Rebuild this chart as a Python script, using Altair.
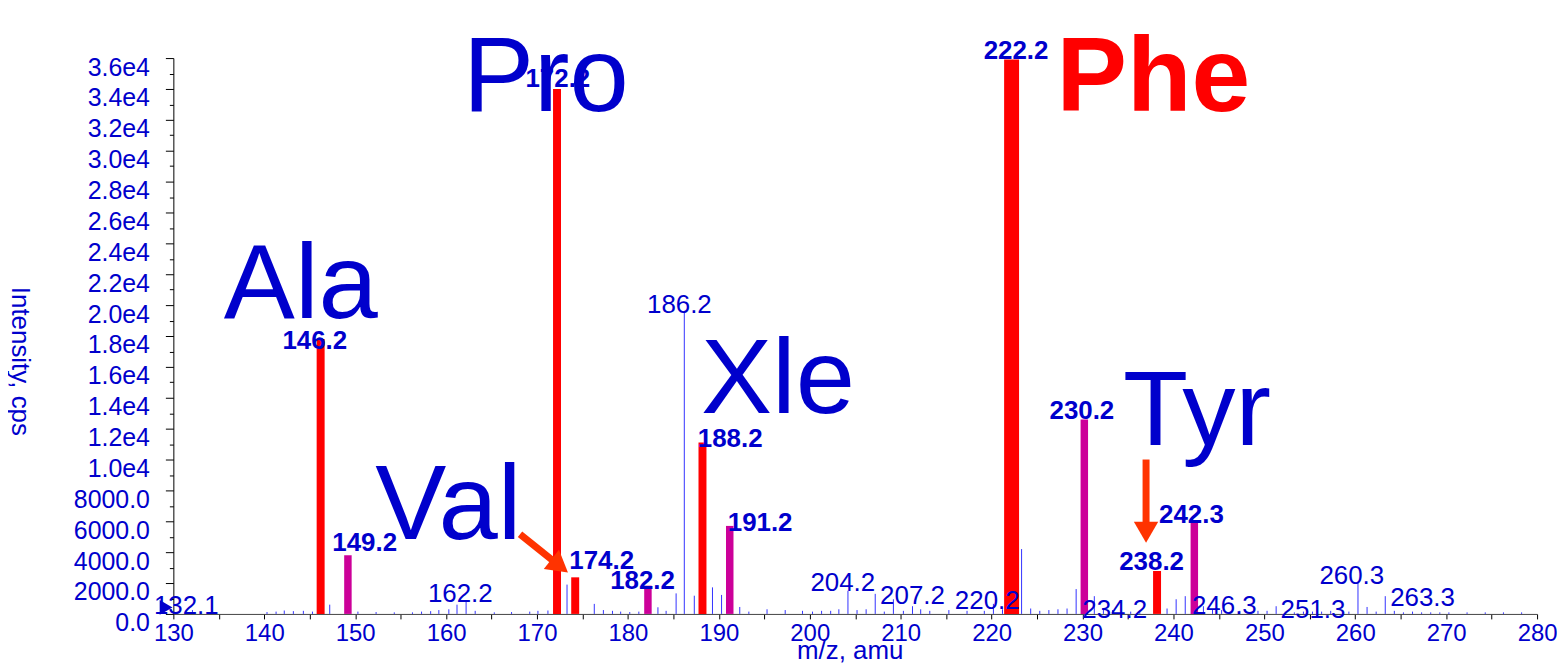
import altair as alt
import pandas as pd

# ---------------- annotated (thick) peaks ----------------
peak_mz = [146.2, 149.2, 172.2, 174.2, 182.2, 188.2, 191.2, 222.2, 230.2, 238.2, 242.3]
peak_int = [17800, 3800, 34000, 2370, 1830, 11100, 5700, 35900, 12600, 2780, 6000]
peak_kind = ["immonium", "related", "immonium", "immonium", "related", "immonium",
             "related", "base", "related", "immonium", "related"]

# ---------------- other (thin) peaks ----------------
minor_mz = [132.1, 140.3, 141.3, 142.2, 143.2, 144.3, 145.3, 147.2, 150.3, 152.3, 154.3,
            156.3, 157.3, 158.3, 159.2, 160.3, 161.2, 162.2, 163.2, 165.3, 167.2, 169.2,
            170.1, 171.2, 173.3, 176.3, 177.3, 178.3, 179.2, 180.2, 181.2, 183.3, 184.2,
            185.3, 186.2, 187.3, 189.3, 190.3, 192.3, 193.3, 195.3, 197.3, 199.2, 200.3,
            201.3, 202.3, 203.2, 204.2, 205.2, 206.2, 207.2, 208.2, 209.2, 210.3, 211.3,
            212.2, 213.2, 215.3, 217.3, 219.2, 220.2, 221.2, 223.3, 224.3, 225.3, 226.3,
            227.3, 228.3, 229.3, 231.3, 232.3, 233.3, 235.3, 236.3, 239.3, 240.3, 241.3,
            243.3, 244.3, 245.3, 247.3, 249.3, 250.3, 251.3, 252.3, 253.3, 254.3, 255.3,
            256.3, 257.3, 259.3, 260.3, 261.3, 262.3, 263.3, 264.3, 265.3, 266.3, 267.3,
            268.3, 269.3, 270.3, 272.3, 274.3, 276.3, 278.3]
minor_int = [250, 120, 150, 220, 180, 200, 150, 600, 150, 120, 100,
             100, 150, 180, 250, 300, 600, 900, 200, 100, 120, 150,
             200, 220, 1900, 650, 250, 200, 150, 120, 150, 430, 200,
             1330, 19500, 1180, 1720, 1230, 450, 150, 300, 250, 200, 150,
             200, 200, 300, 1500, 250, 300, 1300, 150, 950, 200, 500,
             300, 200, 250, 200, 200, 650, 300, 4200, 350, 200, 250,
             300, 350, 1610, 1150, 300, 250, 150, 200, 350, 950, 1150,
             500, 300, 250, 200, 200, 200, 500, 150, 100, 150, 150,
             150, 200, 150, 2050, 450, 150, 1150, 200, 100, 150, 100,
             100, 100, 100, 100, 100, 100, 100]

# ---------------- labels ----------------
bold_label = ["146.2", "149.2", "172.2", "174.2", "182.2", "188.2", "191.2", "222.2",
              "230.2", "238.2", "242.3"]
bold_x = [145.56, 151.04, 172.29, 177.11, 181.61, 191.25, 194.54, 222.69, 229.93, 237.6, 241.98]
bold_y = [17700, 4580, 34650, 3420, 2130, 11350, 5870, 36450, 13160, 3360, 6390]

thin_label = ["132.1", "162.2", "186.2", "204.2", "207.2", "220.2", "234.2", "246.3",
              "251.3", "260.3", "263.3"]
thin_x = [131.42, 161.56, 185.66, 203.63, 211.3, 219.52, 233.54, 245.6, 255.35, 259.62, 267.4]
thin_y = [520, 1290, 20000, 2000, 1160, 840, 260, 520, 260, 2450, 1030]

aa_label = ["Ala", "Pro", "Val", "Xle", "Tyr"]
aa_x = [144.02, 170.98, 160.24, 196.51, 242.6]
aa_y = [19160, 32580, 4840, 13030, 10970]

phe_label = ["Phe"]
phe_x = [237.8]
phe_y = [32580]

# ---------------- arrows ----------------
arrow_x = [168.13, 236.99]
arrow_y = [5160, 10000]
arrow_x2 = [172.49, 236.99]
arrow_y2 = [3110, 5290]
arrow_angle = [128.4, 180]

marker_x = [129.2]
marker_y = [420]

BLUE = "#0000CC"
FONT = "Liberation Sans"

peaks = pd.DataFrame({"mz": peak_mz, "intensity": peak_int, "kind": peak_kind})
minor = pd.DataFrame({"mz": minor_mz, "intensity": minor_int})
bold_df = pd.DataFrame({"mz": bold_x, "intensity": bold_y, "label": bold_label})
thin_df = pd.DataFrame({"mz": thin_x, "intensity": thin_y, "label": thin_label})
aa_df = pd.DataFrame({"mz": aa_x, "intensity": aa_y, "label": aa_label})
phe_df = pd.DataFrame({"mz": phe_x, "intensity": phe_y, "label": phe_label})
arrows = pd.DataFrame({"mz": arrow_x, "intensity": arrow_y, "mz2": arrow_x2,
                       "intensity2": arrow_y2, "angle": arrow_angle})
marker = pd.DataFrame({"mz": marker_x, "intensity": marker_y})

xscale = alt.Scale(domain=[130, 280], nice=False, zero=False)
yscale = alt.Scale(domain=[0, 36000], nice=False, zero=True)

xaxis = alt.Axis(
    title="m/z, amu", values=list(range(130, 281, 5)), format="d",
    labelExpr="datum.value % 10 == 0 ? datum.label : ''",
    tickSize=5, tickColor="#000000", domainColor="#444444", grid=False,
    labelFont=FONT, labelFontSize=24, labelColor=BLUE, labelPadding=3,
    labelFlush=False, labelOverlap=False,
    titleFont=FONT, titleFontSize=26, titleColor=BLUE, titleFontWeight="normal",
    titleX=679, titleY=37, titleBaseline="middle", titleAlign="center",
)
yaxis = alt.Axis(
    title="Intensity, cps", values=list(range(0, 36001, 1000)),
    labelExpr="datum.value % 2000 != 0 ? '' : (datum.value >= 10000 ? format(datum.value / 10000, '.1f') + 'e4' : format(datum.value, '.1f'))",
    tickSize={"condition": {"test": "datum.value % 2000 == 0", "value": 8}, "value": 4},
    tickColor="#000000", domainColor="#000000", grid=False,
    labelFont=FONT, labelFontSize=25, labelColor=BLUE, labelPadding=16,
    labelBaseline="middle", labelOffset=9, labelOverlap=False, labelFlush=False,
    titleFont=FONT, titleFontSize=26, titleColor=BLUE, titleFontWeight="normal",
    titleAngle=90, titleX=-154, titleY=304, titleAlign="center", titleBaseline="middle",
)


def X(field):
    return alt.X(field, type="quantitative", scale=xscale, axis=xaxis)


def Y(field):
    return alt.Y(field, type="quantitative", scale=yscale, axis=yaxis)


thin_lines = alt.Chart(minor).mark_rule(color="#3333FF", strokeWidth=1).encode(
    x=X("mz"), y=Y("intensity"), y2=alt.datum(0)
)

kinds = ["immonium", "related", "base"]
thick = alt.Chart(peaks).mark_rule().encode(
    x=X("mz"), y=Y("intensity"), y2=alt.datum(0),
    color=alt.Color("kind:N", scale=alt.Scale(domain=kinds,
                                               range=["#FF0000", "#CC0099", "#FF0000"]),
                    legend=None),
    strokeWidth=alt.StrokeWidth("kind:N", scale=alt.Scale(type="ordinal", domain=kinds,
                                                          range=[8, 7.5, 15]),
                                legend=None),
)

shafts = alt.Chart(arrows).mark_rule(color="#FF3300", strokeWidth=7).encode(
    x=X("mz"), y=Y("intensity"), x2="mz2", y2="intensity2"
)
heads = alt.Chart(arrows).mark_point(shape="triangle-up", filled=True, color="#FF3300",
                                     size=600, opacity=1).encode(
    x=X("mz2"), y=Y("intensity2"), angle=alt.Angle("angle:Q", scale=None)
)

mark132 = alt.Chart(marker).mark_point(shape="triangle-right", filled=True, color=BLUE,
                                       size=220, opacity=1).encode(
    x=X("mz"), y=Y("intensity")
)

thin_text = alt.Chart(thin_df).mark_text(font=FONT, fontSize=26, color=BLUE,
                                         align="center", baseline="middle").encode(
    x=X("mz"), y=Y("intensity"), text="label:N"
)
bold_text = alt.Chart(bold_df).mark_text(font=FONT, fontSize=26, fontWeight="bold", color=BLUE,
                                         align="center", baseline="middle").encode(
    x=X("mz"), y=Y("intensity"), text="label:N"
)
aa_text = alt.Chart(aa_df).mark_text(font=FONT, fontSize=107, color=BLUE,
                                     align="center", baseline="alphabetic").encode(
    x=X("mz"), y=Y("intensity"), text="label:N"
)
phe_text = alt.Chart(phe_df).mark_text(font=FONT, fontSize=106, fontWeight="bold", color="#FF0000",
                                       align="center", baseline="alphabetic").encode(
    x=X("mz"), y=Y("intensity"), text="label:N"
)

chart = alt.layer(
    thin_lines, thick, shafts, heads, mark132, thin_text, bold_text, aa_text, phe_text
).properties(
    width=1369, height=558,
    autosize=alt.AutoSizeParams(type="none"),
    padding={"left": 166, "top": 49, "right": 20, "bottom": 50},
    background="white",
).configure_view(stroke=None)

chart.save("out.html", embed_options={"renderer": "svg", "actions": False})
